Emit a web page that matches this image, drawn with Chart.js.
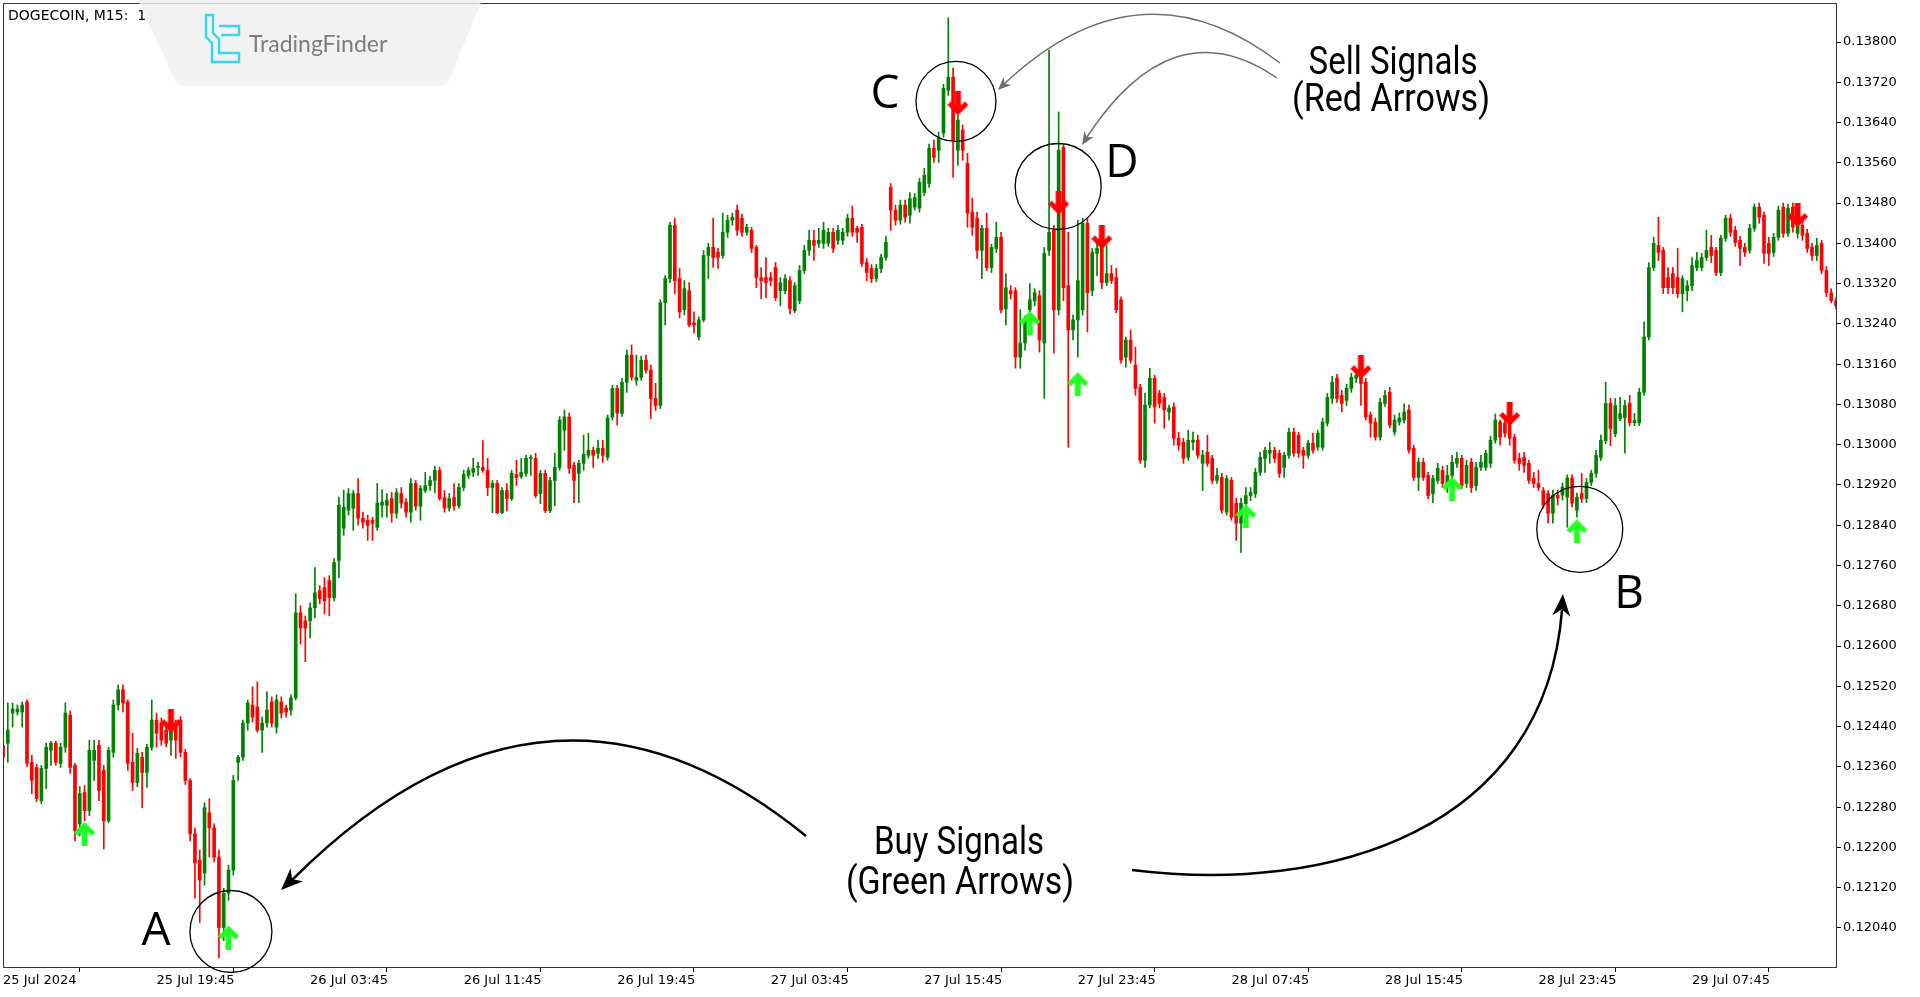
<!DOCTYPE html>
<html>
<head>
<meta charset="utf-8">
<title>DOGECOIN, M15</title>
<script src="https://cdn.jsdelivr.net/npm/chart.js@4.4.1/dist/chart.umd.min.js"></script>
<style>
  html, body { margin: 0; padding: 0; background: #fff; }
  #wrap { width: 1920px; height: 997px; }
</style>
</head>
<body>
<div id="wrap"><canvas id="chart" width="1920" height="997"></canvas></div>
<script>
// time axis labels, one every 32 bars (M15)
const tickLabels = ['25 Jul 2024', '25 Jul 19:45', '26 Jul 03:45', '26 Jul 11:45', '26 Jul 19:45', '27 Jul 03:45',
  '27 Jul 15:45', '27 Jul 23:45', '28 Jul 07:45', '28 Jul 15:45', '28 Jul 23:45', '29 Jul 07:45'];
const tickEvery = 32;

// price axis labels
const priceTicks = [0.12040, 0.12120, 0.12200, 0.12280, 0.12360, 0.12440, 0.12520, 0.12600, 0.12680, 0.12760,
  0.12840, 0.12920, 0.13000, 0.13080, 0.13160, 0.13240, 0.13320, 0.13400, 0.13480, 0.13560, 0.13640, 0.13720, 0.13800];
const priceMin = 0.119625;
const priceMax = 0.138775;

// candles
const open = [
  0.12403,0.12407,0.12467,0.12469,0.12469,0.12489,0.12369,0.12359,0.12293,0.12357,
  0.12393,0.12407,0.12367,0.12399,0.12463,0.12363,0.12247,0.12309,0.12273,0.12373,
  0.12403,0.12353,0.12253,0.12389,0.12483,0.12513,0.12489,0.12369,0.12329,0.12379,
  0.12349,0.12399,0.12453,0.12447,0.12433,0.12413,0.12439,0.12453,0.12389,0.12333,
  0.12227,0.12175,0.12149,0.12269,0.12239,0.12181,0.12041,0.12109,0.12155,0.12369,
  0.12379,0.12447,0.12483,0.12479,0.12433,0.12447,0.12489,0.12439,0.12489,0.12477,
  0.12473,0.12497,0.12666,0.12650,0.12650,0.12676,0.12710,0.12716,0.12730,0.12696,
  0.12770,0.12834,0.12870,0.12874,0.12903,0.12854,0.12850,0.12850,0.12836,0.12880,
  0.12880,0.12893,0.12864,0.12903,0.12886,0.12866,0.12923,0.12878,0.12909,0.12919,
  0.12929,0.12949,0.12895,0.12874,0.12895,0.12879,0.12915,0.12939,0.12945,0.12955,
  0.12955,0.12949,0.12915,0.12923,0.12865,0.12909,0.12893,0.12941,0.12937,0.12943,
  0.12973,0.12973,0.12903,0.12943,0.12869,0.12929,0.12955,0.13029,0.13055,0.12959,
  0.12943,0.12963,0.12979,0.12989,0.12983,0.12993,0.12975,0.13055,0.13112,0.13062,
  0.13124,0.13178,0.13128,0.13134,0.13168,0.13148,0.13092,0.13078,0.13282,0.13330,
  0.13436,0.13330,0.13268,0.13306,0.13242,0.13214,0.13248,0.13376,0.13392,0.13382,
  0.13376,0.13422,0.13446,0.13466,0.13450,0.13422,0.13426,0.13392,0.13332,0.13332,
  0.13332,0.13352,0.13306,0.13306,0.13326,0.13266,0.13286,0.13346,0.13386,0.13406,
  0.13400,0.13400,0.13400,0.13422,0.13406,0.13406,0.13422,0.13450,0.13430,0.13432,
  0.13362,0.13350,0.13330,0.13350,0.13372,0.13511,0.13466,0.13446,0.13476,0.13456,
  0.13472,0.13470,0.13501,0.13519,0.13589,0.13585,0.13619,0.13704,0.13730,0.13585,
  0.13625,0.13559,0.13462,0.13450,0.13386,0.13430,0.13352,0.13390,0.13412,0.13270,
  0.13306,0.13306,0.13174,0.13202,0.13268,0.13286,0.13296,0.13202,0.13386,0.13426,
  0.13268,0.13591,0.13316,0.13228,0.13248,0.13268,0.13440,0.13306,0.13380,0.13396,
  0.13322,0.13340,0.13332,0.13288,0.13174,0.13208,0.13158,0.13114,0.12969,0.13079,
  0.13132,0.13102,0.13094,0.13065,0.13075,0.13013,0.13005,0.12975,0.13005,0.13009,
  0.12963,0.12985,0.12973,0.12929,0.12935,0.12866,0.12929,0.12884,0.12844,0.12883,
  0.12899,0.12903,0.12945,0.12973,0.12983,0.12989,0.12983,0.12955,0.12979,0.13025,
  0.13019,0.12989,0.12979,0.13003,0.12995,0.12995,0.13043,0.13092,0.13132,0.13098,
  0.13088,0.13112,0.13132,0.13134,0.13124,0.13059,0.13045,0.13015,0.13082,0.13104,
  0.13025,0.13045,0.13049,0.13069,0.12993,0.12935,0.12965,0.12939,0.12903,0.12929,
  0.12949,0.12919,0.12939,0.12963,0.12973,0.12923,0.12965,0.12919,0.12955,0.12955,
  0.12963,0.13009,0.13045,0.13043,0.13039,0.13015,0.12973,0.12975,0.12963,0.12933,
  0.12923,0.12909,0.12903,0.12864,0.12900,0.12900,0.12896,0.12934,0.12870,0.12903,
  0.12893,0.12925,0.12943,0.12975,0.13008,0.13082,0.13022,0.13052,0.13054,0.13082,
  0.13044,0.13044,0.13104,0.13214,0.13352,0.13396,0.13386,0.13332,0.13340,0.13332,
  0.13300,0.13306,0.13316,0.13352,0.13352,0.13372,0.13392,0.13386,0.13342,0.13410,
  0.13450,0.13426,0.13406,0.13392,0.13386,0.13430,0.13472,0.13456,0.13400,0.13382,
  0.13412,0.13472,0.13420,0.13472,0.13420,0.13436,0.13420,0.13392,0.13376,0.13400,
  0.13346,0.13302,0.13286];
const high = [
  0.12417,0.12487,0.12487,0.12483,0.12489,0.12493,0.12383,0.12365,0.12363,0.12407,
  0.12411,0.12411,0.12407,0.12487,0.12471,0.12367,0.12321,0.12323,0.12413,0.12413,
  0.12413,0.12363,0.12399,0.12493,0.12523,0.12523,0.12493,0.12427,0.12397,0.12389,
  0.12405,0.12493,0.12467,0.12457,0.12440,0.12453,0.12453,0.12460,0.12395,0.12337,
  0.12239,0.12195,0.12289,0.12297,0.12247,0.12195,0.12119,0.12165,0.12343,0.12383,
  0.12453,0.12493,0.12519,0.12529,0.12459,0.12509,0.12499,0.12503,0.12499,0.12483,
  0.12503,0.12704,0.12680,0.12660,0.12686,0.12756,0.12720,0.12736,0.12740,0.12774,
  0.12896,0.12910,0.12913,0.12909,0.12933,0.12866,0.12860,0.12856,0.12923,0.12911,
  0.12903,0.12905,0.12913,0.12915,0.12893,0.12933,0.12929,0.12919,0.12945,0.12937,
  0.12957,0.12955,0.12909,0.12903,0.12923,0.12923,0.12949,0.12955,0.12973,0.12965,
  0.13008,0.12973,0.12929,0.12929,0.12915,0.12923,0.12949,0.12969,0.12973,0.12979,
  0.12979,0.12983,0.12949,0.12949,0.12935,0.12983,0.13056,0.13069,0.13063,0.12965,
  0.12969,0.13019,0.13023,0.12995,0.13009,0.13009,0.13059,0.13118,0.13118,0.13132,
  0.13188,0.13198,0.13178,0.13176,0.13178,0.13158,0.13122,0.13288,0.13336,0.13442,
  0.13450,0.13350,0.13326,0.13322,0.13264,0.13254,0.13386,0.13400,0.13450,0.13390,
  0.13460,0.13456,0.13460,0.13476,0.13458,0.13438,0.13432,0.13396,0.13352,0.13372,
  0.13342,0.13362,0.13332,0.13338,0.13334,0.13322,0.13356,0.13396,0.13426,0.13426,
  0.13430,0.13442,0.13430,0.13430,0.13436,0.13430,0.13458,0.13474,0.13434,0.13438,
  0.13370,0.13358,0.13358,0.13378,0.13414,0.13519,0.13476,0.13486,0.13486,0.13501,
  0.13499,0.13529,0.13549,0.13597,0.13605,0.13621,0.13716,0.13848,0.13748,0.13655,
  0.13635,0.13579,0.13490,0.13462,0.13436,0.13460,0.13398,0.13442,0.13422,0.13340,
  0.13316,0.13312,0.13268,0.13256,0.13320,0.13310,0.13306,0.13392,0.13784,0.13436,
  0.13661,0.13595,0.13422,0.13258,0.13446,0.13450,0.13450,0.13390,0.13400,0.13416,
  0.13396,0.13356,0.13350,0.13294,0.13214,0.13228,0.13194,0.13120,0.13102,0.13152,
  0.13138,0.13108,0.13102,0.13079,0.13083,0.13025,0.13013,0.13029,0.13025,0.13019,
  0.12989,0.13019,0.12979,0.12953,0.12943,0.12939,0.12935,0.12894,0.12894,0.12915,
  0.12915,0.12953,0.12985,0.12995,0.13005,0.12995,0.12989,0.12985,0.13033,0.13033,
  0.13025,0.12995,0.13009,0.13023,0.13029,0.13053,0.13102,0.13136,0.13140,0.13108,
  0.13120,0.13142,0.13146,0.13144,0.13132,0.13065,0.13053,0.13092,0.13108,0.13114,
  0.13059,0.13063,0.13081,0.13079,0.12999,0.12973,0.12973,0.12945,0.12939,0.12963,
  0.12957,0.12959,0.12979,0.12985,0.12979,0.12969,0.12973,0.12965,0.12979,0.12989,
  0.13017,0.13061,0.13049,0.13053,0.13049,0.13021,0.12983,0.12985,0.12969,0.12945,
  0.12949,0.12915,0.12909,0.12910,0.12910,0.12924,0.12940,0.12940,0.12904,0.12943,
  0.12933,0.12949,0.12989,0.13019,0.13124,0.13092,0.13092,0.13094,0.13088,0.13098,
  0.13062,0.13112,0.13244,0.13362,0.13412,0.13452,0.13392,0.13352,0.13352,0.13390,
  0.13336,0.13326,0.13372,0.13382,0.13380,0.13426,0.13416,0.13392,0.13416,0.13456,
  0.13458,0.13434,0.13414,0.13400,0.13438,0.13478,0.13480,0.13462,0.13412,0.13420,
  0.13474,0.13480,0.13478,0.13480,0.13448,0.13444,0.13428,0.13400,0.13410,0.13406,
  0.13354,0.13310,0.13292];
const low = [
  0.12369,0.12369,0.12439,0.12463,0.12439,0.12361,0.12307,0.12291,0.12287,0.12317,
  0.12363,0.12363,0.12359,0.12389,0.12347,0.12213,0.12223,0.12253,0.12263,0.12333,
  0.12293,0.12197,0.12249,0.12379,0.12473,0.12469,0.12353,0.12313,0.12321,0.12279,
  0.12319,0.12393,0.12399,0.12403,0.12400,0.12383,0.12377,0.12380,0.12325,0.12213,
  0.12099,0.12051,0.12125,0.12181,0.12171,0.11981,0.12015,0.12095,0.12145,0.12333,
  0.12373,0.12433,0.12449,0.12429,0.12389,0.12439,0.12439,0.12427,0.12457,0.12459,
  0.12463,0.12493,0.12604,0.12569,0.12616,0.12656,0.12684,0.12664,0.12660,0.12690,
  0.12736,0.12820,0.12860,0.12830,0.12840,0.12834,0.12810,0.12810,0.12830,0.12856,
  0.12856,0.12846,0.12854,0.12874,0.12856,0.12846,0.12870,0.12850,0.12905,0.12909,
  0.12905,0.12890,0.12866,0.12868,0.12870,0.12874,0.12909,0.12933,0.12937,0.12939,
  0.12945,0.12899,0.12865,0.12863,0.12863,0.12869,0.12889,0.12919,0.12933,0.12937,
  0.12939,0.12895,0.12883,0.12865,0.12865,0.12879,0.12949,0.12989,0.12943,0.12885,
  0.12885,0.12949,0.12973,0.12955,0.12973,0.12965,0.12969,0.13049,0.13039,0.13056,
  0.13104,0.13128,0.13118,0.13128,0.13142,0.13052,0.13068,0.13072,0.13238,0.13322,
  0.13300,0.13252,0.13258,0.13234,0.13222,0.13208,0.13244,0.13330,0.13352,0.13350,
  0.13370,0.13412,0.13436,0.13416,0.13414,0.13416,0.13382,0.13312,0.13290,0.13292,
  0.13316,0.13286,0.13276,0.13300,0.13260,0.13262,0.13280,0.13340,0.13376,0.13366,
  0.13392,0.13390,0.13394,0.13382,0.13398,0.13398,0.13414,0.13414,0.13402,0.13354,
  0.13326,0.13322,0.13324,0.13342,0.13366,0.13426,0.13436,0.13438,0.13442,0.13440,
  0.13466,0.13462,0.13495,0.13511,0.13561,0.13561,0.13611,0.13694,0.13531,0.13555,
  0.13565,0.13432,0.13416,0.13370,0.13330,0.13346,0.13342,0.13382,0.13262,0.13238,
  0.13290,0.13152,0.13152,0.13188,0.13258,0.13276,0.13184,0.13092,0.13376,0.13182,
  0.13258,0.13286,0.12995,0.13208,0.13174,0.13258,0.13224,0.13296,0.13336,0.13310,
  0.13316,0.13320,0.13262,0.13162,0.13154,0.13162,0.13098,0.12963,0.12955,0.13073,
  0.13043,0.13073,0.13033,0.13049,0.12999,0.12989,0.12963,0.12969,0.12989,0.12973,
  0.12909,0.12957,0.12923,0.12923,0.12864,0.12860,0.12850,0.12810,0.12786,0.12869,
  0.12889,0.12895,0.12939,0.12945,0.12963,0.12965,0.12935,0.12935,0.12973,0.12977,
  0.12975,0.12953,0.12973,0.12983,0.12989,0.12989,0.13037,0.13082,0.13084,0.13065,
  0.13078,0.13104,0.13124,0.13078,0.13049,0.13015,0.13009,0.13009,0.13076,0.13033,
  0.13019,0.13039,0.13043,0.12983,0.12929,0.12909,0.12929,0.12893,0.12885,0.12923,
  0.12915,0.12905,0.12929,0.12955,0.12913,0.12915,0.12905,0.12909,0.12949,0.12949,
  0.12955,0.13003,0.12999,0.13015,0.12999,0.12963,0.12949,0.12945,0.12923,0.12915,
  0.12909,0.12874,0.12844,0.12844,0.12880,0.12890,0.12836,0.12876,0.12856,0.12885,
  0.12885,0.12919,0.12935,0.12969,0.13002,0.12998,0.13016,0.13048,0.12983,0.13038,
  0.13038,0.13038,0.13098,0.13208,0.13346,0.13366,0.13300,0.13300,0.13300,0.13292,
  0.13264,0.13286,0.13306,0.13346,0.13346,0.13366,0.13362,0.13336,0.13336,0.13404,
  0.13414,0.13394,0.13356,0.13374,0.13380,0.13424,0.13440,0.13360,0.13356,0.13374,
  0.13406,0.13412,0.13414,0.13422,0.13410,0.13406,0.13382,0.13366,0.13366,0.13340,
  0.13294,0.13282,0.13270];
const close = [
  0.12379,0.12433,0.12475,0.12475,0.12483,0.12367,0.12333,0.12297,0.12357,0.12399,
  0.12407,0.12369,0.12399,0.12467,0.12359,0.12233,0.12307,0.12273,0.12393,0.12393,
  0.12313,0.12253,0.12393,0.12483,0.12513,0.12487,0.12367,0.12329,0.12387,0.12349,
  0.12399,0.12453,0.12427,0.12413,0.12407,0.12439,0.12413,0.12389,0.12333,0.12227,
  0.12169,0.12135,0.12279,0.12239,0.12181,0.12041,0.12109,0.12155,0.12333,0.12379,
  0.12447,0.12487,0.12459,0.12433,0.12447,0.12473,0.12447,0.12493,0.12467,0.12469,
  0.12497,0.12666,0.12636,0.12636,0.12676,0.12706,0.12694,0.12690,0.12696,0.12766,
  0.12880,0.12876,0.12903,0.12903,0.12854,0.12846,0.12840,0.12844,0.12884,0.12886,
  0.12890,0.12864,0.12905,0.12884,0.12866,0.12923,0.12878,0.12913,0.12919,0.12929,
  0.12949,0.12893,0.12874,0.12893,0.12878,0.12915,0.12941,0.12949,0.12953,0.12957,
  0.12949,0.12915,0.12923,0.12865,0.12909,0.12893,0.12943,0.12935,0.12945,0.12973,
  0.12975,0.12899,0.12943,0.12869,0.12929,0.12955,0.13049,0.13055,0.12953,0.12929,
  0.12963,0.12981,0.12989,0.12979,0.12993,0.12979,0.13053,0.13112,0.13063,0.13124,
  0.13178,0.13134,0.13134,0.13168,0.13148,0.13092,0.13078,0.13282,0.13330,0.13436,
  0.13326,0.13264,0.13310,0.13238,0.13238,0.13248,0.13376,0.13392,0.13372,0.13372,
  0.13422,0.13446,0.13452,0.13426,0.13422,0.13432,0.13390,0.13332,0.13326,0.13322,
  0.13326,0.13292,0.13322,0.13330,0.13270,0.13316,0.13346,0.13386,0.13406,0.13396,
  0.13406,0.13426,0.13422,0.13390,0.13426,0.13422,0.13450,0.13422,0.13422,0.13360,
  0.13342,0.13330,0.13350,0.13372,0.13402,0.13466,0.13446,0.13476,0.13452,0.13489,
  0.13491,0.13521,0.13535,0.13589,0.13571,0.13611,0.13708,0.13730,0.13605,0.13645,
  0.13585,0.13460,0.13432,0.13386,0.13430,0.13352,0.13392,0.13412,0.13268,0.13312,
  0.13300,0.13174,0.13202,0.13248,0.13288,0.13302,0.13208,0.13380,0.13422,0.13268,
  0.13585,0.13312,0.13228,0.13248,0.13326,0.13440,0.13302,0.13382,0.13390,0.13322,
  0.13340,0.13326,0.13268,0.13168,0.13208,0.13168,0.13112,0.12969,0.13079,0.13132,
  0.13075,0.13082,0.13069,0.13073,0.13013,0.12999,0.12973,0.13009,0.13009,0.12979,
  0.12979,0.12963,0.12929,0.12939,0.12870,0.12933,0.12856,0.12844,0.12884,0.12899,
  0.12905,0.12945,0.12975,0.12989,0.12989,0.12973,0.12943,0.12979,0.13025,0.12983,
  0.12983,0.12979,0.13003,0.12989,0.13023,0.13045,0.13094,0.13124,0.13092,0.13082,
  0.13112,0.13134,0.13138,0.13122,0.13055,0.13043,0.13015,0.13084,0.13098,0.13039,
  0.13049,0.13053,0.13065,0.12989,0.12935,0.12965,0.12935,0.12899,0.12933,0.12953,
  0.12923,0.12939,0.12965,0.12973,0.12919,0.12959,0.12915,0.12955,0.12965,0.12983,
  0.13009,0.13049,0.13015,0.13023,0.13013,0.12969,0.12963,0.12959,0.12929,0.12923,
  0.12915,0.12880,0.12864,0.12900,0.12894,0.12916,0.12934,0.12884,0.12896,0.12893,
  0.12925,0.12943,0.12979,0.13009,0.13082,0.13032,0.13078,0.13062,0.13078,0.13044,
  0.13048,0.13104,0.13214,0.13352,0.13400,0.13382,0.13312,0.13312,0.13312,0.13300,
  0.13330,0.13316,0.13356,0.13366,0.13372,0.13386,0.13376,0.13342,0.13410,0.13450,
  0.13422,0.13402,0.13390,0.13382,0.13430,0.13472,0.13452,0.13380,0.13380,0.13412,
  0.13466,0.13420,0.13470,0.13432,0.13440,0.13416,0.13390,0.13376,0.13396,0.13346,
  0.13302,0.13286,0.13276];

// indicator signals: bar index and price of the arrow
const buyIdx = [17, 47, 214, 224, 259, 302, 328];
const buyPrice = [0.12227, 0.12021, 0.13242, 0.13120, 0.12858, 0.12913, 0.12828];
const sellIdx = [35, 199, 220, 229, 283, 314, 374];
const sellPrice = [0.12451, 0.13678, 0.13481, 0.13412, 0.13154, 0.13061, 0.13456];

const upColor = '#008000';
const downColor = '#ff0000';
const buyColor = '#22ff22';
const sellColor = '#ff0000';

const labels = open.map((_, i) => String(i));
const candleColors = open.map((o, i) => close[i] >= o ? upColor : downColor);

function sparse(idx, vals) {
  const out = labels.map(() => null);
  idx.forEach((k, j) => { out[k] = vals[j]; });
  return out;
}

function makeArrow(color, up) {
  const c = document.createElement('canvas');
  c.width = 21; c.height = 24;
  const g = c.getContext('2d');
  g.fillStyle = color;
  if (!up) { g.translate(0, 24); g.scale(1, -1); }
  g.beginPath();
  g.moveTo(10.5, 0);
  g.lineTo(21, 10.5);
  g.lineTo(17.5, 14);
  g.lineTo(13.5, 10);
  g.lineTo(13.5, 24);
  g.lineTo(7.5, 24);
  g.lineTo(7.5, 10);
  g.lineTo(3.5, 14);
  g.lineTo(0, 10.5);
  g.closePath();
  g.fill();
  return c;
}

// circles drawn round the marked signals (bar index, price, radius px)
const circles = [
  { at: 47.5, price: 0.12033, r: 41 },
  { at: 328.6, price: 0.12832, r: 43 },
  { at: 198.6, price: 0.13682, r: 40 },
  { at: 219.9, price: 0.13513, r: 43 }
];

function arrowHead(ctx, x, y, ang, len, half) {
  ctx.save();
  ctx.translate(x, y);
  ctx.rotate(ang);
  ctx.beginPath();
  ctx.moveTo(0, 0);
  ctx.lineTo(-len, -half);
  ctx.lineTo(-len * 0.7, 0);
  ctx.lineTo(-len, half);
  ctx.closePath();
  ctx.fill();
  ctx.restore();
}

const overlay = {
  id: 'overlay',
  afterDraw(chart) {
    const { ctx, chartArea: a } = chart;
    const xs = chart.scales.x, ys = chart.scales.y;
    ctx.save();

    // frame
    ctx.strokeStyle = '#333';
    ctx.lineWidth = 1;
    ctx.strokeRect(a.left + 0.5, a.top + 0.5, a.right - a.left, a.bottom - a.top);

    // circles
    ctx.strokeStyle = '#000';
    ctx.lineWidth = 1.3;
    circles.forEach(c => {
      ctx.beginPath();
      ctx.arc(xs.getPixelForValue(c.at), ys.getPixelForValue(c.price), c.r, 0, Math.PI * 2);
      ctx.stroke();
    });

    // letters
    ctx.fillStyle = '#000';
    ctx.font = '46px "Open Sans"';
    ctx.textAlign = 'center';
    ctx.textBaseline = 'alphabetic';
    ctx.fillText('A', 156, 945);
    ctx.fillText('B', 1629, 608);
    ctx.fillText('C', 885, 108);
    ctx.fillText('D', 1122, 177);

    // captions
    ctx.font = '38px Roboto';
    ctx.fillText('Sell Signals', 1393, 74, 169);
    ctx.fillText('(Red Arrows)', 1391, 111, 198);
    ctx.fillText('Buy Signals', 959, 854, 170);
    ctx.fillText('(Green Arrows)', 960, 894, 228);

    // grey arrows to C and D
    ctx.strokeStyle = '#6e6e6e';
    ctx.fillStyle = '#6e6e6e';
    ctx.lineWidth = 1.5;
    ctx.beginPath();
    ctx.moveTo(1280, 63);
    ctx.quadraticCurveTo(1139, -45, 1002, 86);
    ctx.stroke();
    arrowHead(ctx, 998, 90, Math.atan2(135, -141), 13, 5.5);
    ctx.beginPath();
    ctx.moveTo(1277, 78);
    ctx.quadraticCurveTo(1172, 5, 1085, 140);
    ctx.stroke();
    arrowHead(ctx, 1082, 145, Math.atan2(140, -90), 13, 5.5);

    // black arrows to A and B
    ctx.strokeStyle = '#000';
    ctx.fillStyle = '#000';
    ctx.lineWidth = 2.5;
    ctx.beginPath();
    ctx.moveTo(806, 836);
    ctx.quadraticCurveTo(547, 625, 292, 880);
    ctx.stroke();
    arrowHead(ctx, 281, 890, Math.atan2(255, -265), 22, 9);
    ctx.beginPath();
    ctx.moveTo(1132, 870);
    ctx.bezierCurveTo(1330, 895, 1545, 830, 1562, 610);
    ctx.stroke();
    arrowHead(ctx, 1563, 594, Math.atan2(-234, 18), 22, 9);

    // symbol line
    ctx.textAlign = 'left';
    ctx.font = '14px "DejaVu Sans"';
    ctx.fillText('DOGECOIN, M15:  1', 8, 20);

    // watermark
    ctx.fillStyle = 'rgba(240, 240, 240, 0.85)';
    ctx.beginPath();
    ctx.moveTo(138, 0);
    ctx.lineTo(482, 0);
    ctx.lineTo(450, 78);
    ctx.quadraticCurveTo(447, 86, 438, 86);
    ctx.lineTo(186, 86);
    ctx.quadraticCurveTo(177, 86, 174, 78);
    ctx.closePath();
    ctx.fill();
    ctx.strokeStyle = '#36d6ef';
    ctx.lineWidth = 2.4;
    ctx.beginPath();
    ctx.moveTo(206, 15); ctx.lineTo(206, 37); ctx.lineTo(212, 43); ctx.lineTo(212, 62);
    ctx.lineTo(239, 62); ctx.lineTo(239, 53); ctx.lineTo(219, 53); ctx.lineTo(219, 39);
    ctx.lineTo(213, 33); ctx.lineTo(213, 15); ctx.closePath();
    ctx.stroke();
    ctx.beginPath();
    ctx.moveTo(219, 26); ctx.lineTo(239, 26); ctx.lineTo(239, 35); ctx.lineTo(221, 35);
    ctx.stroke();
    ctx.fillStyle = '#7d7d7d';
    ctx.font = '23px Lato';
    ctx.fillText('TradingFinder', 249, 52, 170);

    ctx.restore();
  }
};

const axisFont = { family: 'DejaVu Sans', size: 13 };

new Chart(document.getElementById('chart'), {
  type: 'bar',
  data: {
    labels: labels,
    datasets: [
      {
        type: 'line',
        data: sparse(buyIdx, buyPrice),
        showLine: false,
        pointStyle: makeArrow(buyColor, true),
        pointRadius: 8,
        order: -2
      },
      {
        type: 'line',
        data: sparse(sellIdx, sellPrice),
        showLine: false,
        pointStyle: makeArrow(sellColor, false),
        pointRadius: 8,
        order: -1
      },
      {
        data: open.map((o, i) => [o, close[i]]),
        backgroundColor: candleColors,
        barThickness: 3,
        minBarLength: 1,
        grouped: false,
        order: 0
      },
      {
        data: low.map((l, i) => [l, high[i]]),
        backgroundColor: candleColors,
        barThickness: 1,
        grouped: false,
        order: 1
      }
    ]
  },
  options: {
    responsive: false,
    animation: false,
    events: [],
    layout: { autoPadding: false, padding: { left: 3, top: 3, right: 0, bottom: 0 } },
    plugins: {
      legend: { display: false },
      tooltip: { enabled: false }
    },
    scales: {
      x: {
        type: 'category',
        offset: false,
        afterBuildTicks: axis => { axis.ticks = tickLabels.map((t, k) => ({ value: k * tickEvery })); },
        afterFit: axis => { axis.height = 30; axis.paddingLeft = 0; axis.paddingRight = 0; },
        grid: { display: true, drawOnChartArea: false, drawTicks: true, tickLength: 5, color: '#000' },
        border: { display: true, color: '#000', width: 1 },
        ticks: {
          autoSkip: false,
          maxRotation: 0,
          align: 'start',
          padding: 1,
          color: '#000',
          font: axisFont,
          callback: v => tickLabels[v / tickEvery]
        }
      },
      y: {
        position: 'right',
        min: priceMin,
        max: priceMax,
        afterBuildTicks: axis => { axis.ticks = priceTicks.map(v => ({ value: v })); },
        afterFit: axis => { axis.width = 84; axis.paddingTop = 0; axis.paddingBottom = 0; },
        grid: { display: true, drawOnChartArea: false, drawTicks: true, tickLength: 5, color: '#000' },
        border: { display: true, color: '#000', width: 1 },
        ticks: {
          padding: 2,
          color: '#000',
          font: axisFont,
          callback: v => v.toFixed(5)
        }
      }
    }
  },
  plugins: [overlay]
});
</script>
</body>
</html>
